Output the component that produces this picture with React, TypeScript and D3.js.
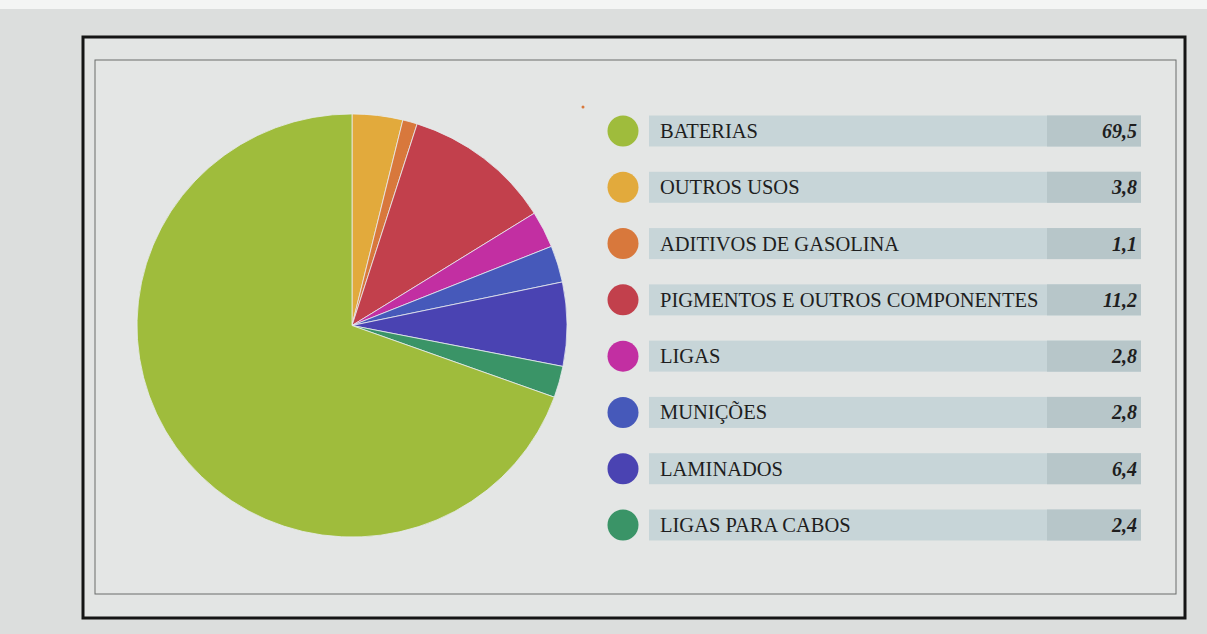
import React from "react";
import * as d3 from "d3";

const categories = [
  "BATERIAS",
  "OUTROS USOS",
  "ADITIVOS DE GASOLINA",
  "PIGMENTOS E OUTROS COMPONENTES",
  "LIGAS",
  "MUNIÇÕES",
  "LAMINADOS",
  "LIGAS PARA CABOS",
];
const values = [69.5, 3.8, 1.1, 11.2, 2.8, 2.8, 6.4, 2.4];
const valueLabels = ["69,5", "3,8", "1,1", "11,2", "2,8", "2,8", "6,4", "2,4"];
const colors = ["#9fbc3c", "#e2aa3c", "#d8783c", "#c2404c", "#c22fa2", "#4659ba", "#4a43b2", "#3a9467"];
// Pie order (clockwise from 12 o'clock)
const pieOrder = [1, 2, 3, 4, 5, 6, 7, 0];

export default function App() {
  const W = 1207, H = 634;
  const cx = 352, cy = 325.5, r = 215;
  const ordered = pieOrder.map((i) => ({ i, v: values[i] }));
  const pie = d3.pie<{ i: number; v: number }>().value((d) => d.v).sort(null);
  const arcs = pie(ordered);
  const arc = d3.arc<d3.PieArcDatum<{ i: number; v: number }>>().innerRadius(0).outerRadius(r);

  const rowY = d3.scalePoint<number>().domain(d3.range(categories.length)).range([131, 525]);
  const barX0 = 649, barX1 = 1141, valX0 = 1047, barH = 31;

  return (
    <svg width={W} height={H} style={{ position: "absolute", left: 0, top: 0 }}>
      <rect x={0} y={0} width={W} height={H} fill="#dcdedd" />
      <rect x={0} y={0} width={W} height={9} fill="#f4f5f4" />
      <rect x={83} y={37} width={1102} height={581} fill="#e3e5e4" stroke="#151515" strokeWidth={3} />
      <rect x={95} y={60} width={1081} height={534} fill="#e4e6e5" stroke="#6a6c6b" strokeWidth={1} />
      <g transform={`translate(${cx},${cy}) scale(1,0.984)`}>
        {arcs.map((a) => (
          <path key={a.data.i} d={arc(a) || ""} fill={colors[a.data.i]} stroke="#e8ecef" strokeWidth={0.8} />
        ))}
      </g>
      <circle cx={583} cy={107} r={1.5} fill="#d8783c" />
      {categories.map((c, i) => {
        const y = rowY(i)!;
        return (
          <g key={c}>
            <circle cx={623} cy={y} r={15.5} fill={colors[i]} />
            <rect x={barX0} y={y - barH / 2} width={barX1 - barX0} height={barH} fill="#c7d5d8" />
            <rect x={valX0} y={y - barH / 2} width={barX1 - valX0} height={barH} fill="#b7c6c9" />
            <text
              x={660}
              y={y + 7}
              fontFamily="'Liberation Serif', 'DejaVu Serif', serif"
              fontSize={20.5}
              fill="#1e1e1e"
            >
              {c}
            </text>
            <text
              x={1137}
              y={y + 7}
              textAnchor="end"
              fontFamily="'Liberation Serif', 'DejaVu Serif', serif"
              fontSize={20}
              fontWeight="bold"
              fontStyle="italic"
              fill="#1e1e1e"
            >
              {valueLabels[i]}
            </text>
          </g>
        );
      })}
    </svg>
  );
}
